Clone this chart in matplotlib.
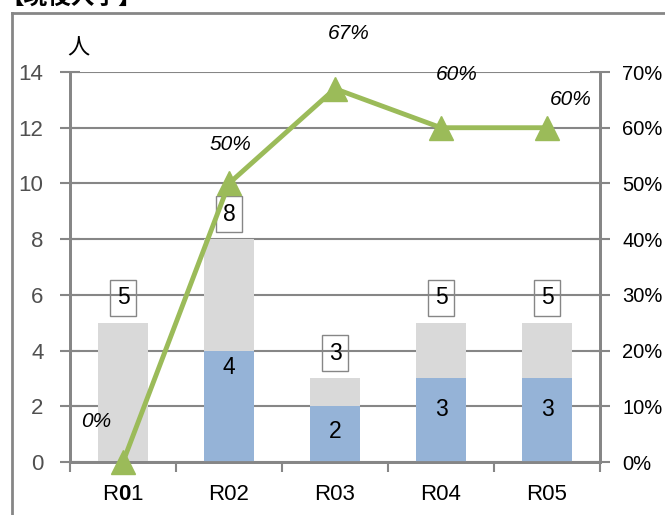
import matplotlib
matplotlib.use("Agg")
import matplotlib.pyplot as plt
from matplotlib.lines import Line2D

plt.rcParams['font.family'] = ['Liberation Sans', 'Noto Sans CJK JP', 'DejaVu Sans']
plt.rcParams['mathtext.fontset'] = 'custom'
plt.rcParams['mathtext.bf'] = 'Liberation Sans:bold'
plt.rcParams['mathtext.rm'] = 'Liberation Sans'

categories = [r"R$\mathbf{0}$1", "R02", "R03", "R04", "R05"]
totals = [5, 8, 3, 5, 5]
admitted = [0, 4, 2, 3, 3]
rates = [0, 50, 67, 60, 60]
rate_labels = ["0%", "50%", "67%", "60%", "60%"]
left_ticks = [0, 2, 4, 6, 8, 10, 12, 14]
right_ticks = [0, 10, 20, 30, 40, 50, 60, 70]

# label offsets (points) - layout only
rate_offsets = [(-19, 29), (1, 28), (10, 40), (11, 38), (17, 20)]
blue_label_y = [None, 3.4, 1.1, 1.9, 1.9]

gray = "#D9D9D9"
blue = "#95B3D7"
green = "#9BBB59"
axc = "#868686"

fig = plt.figure(figsize=(6.65, 5.15), dpi=100)
ax = fig.add_axes([70/665, 1-462/515, 530/665, 390/515])
ax2 = ax.twinx()

x = list(range(len(categories)))
ax.bar(x, totals, width=0.47, color=gray, zorder=2)
ax.bar(x, admitted, width=0.47, color=blue, zorder=3)

ax.set_xlim(-0.5, 4.5)
ax.set_ylim(0, 14)
ax.set_yticks(left_ticks)
ax.set_xticks(x)
ax.set_xticklabels(categories, fontsize=16)
ax.tick_params(axis='y', labelsize=16, labelcolor="#505050", direction='inout', length=14, width=1.5, color=axc, pad=12)
ax.tick_params(axis='x', direction='inout', length=0, pad=16)
ax.yaxis.grid(True, color=axc, linewidth=1.5, zorder=0)
ax.set_axisbelow(True)

ax.set_xticks([-0.5, 0.5, 1.5, 2.5, 3.5, 4.5], minor=True)
ax.tick_params(axis='x', which='minor', direction='out', length=7, width=1.5, color=axc)

for s in ['top']:
    ax.spines[s].set_visible(False)
    ax2.spines[s].set_visible(False)
for s in ['left', 'right', 'bottom']:
    ax.spines[s].set_color(axc)
    ax.spines[s].set_linewidth(2)
    ax2.spines[s].set_color(axc)
    ax2.spines[s].set_linewidth(2)

for xi, t in zip(x, totals):
    ax.text(xi, t + 0.9, str(t), ha='center', va='center', fontsize=16.5, zorder=5,
            bbox=dict(boxstyle='square,pad=0.28', facecolor='none', edgecolor=axc, linewidth=1))
for xi, a, yy in zip(x, admitted, blue_label_y):
    if a > 0:
        ax.text(xi, yy, str(a), ha='center', va='center', fontsize=16.5, zorder=5)

ax2.plot(x, rates, color=green, linewidth=3.5, marker='^', markersize=17, zorder=6, clip_on=False)
ax2.set_ylim(0, 70)
ax2.set_yticks(right_ticks)
ax2.set_yticklabels([f"{v}%" for v in right_ticks], fontsize=14.5)
ax2.tick_params(axis='y', direction='inout', length=14, width=1.5, color=axc, pad=9)
for xi, r, lab, off in zip(x, rates, rate_labels, rate_offsets):
    ax2.annotate(lab, (xi, r), xytext=off, textcoords='offset points', ha='center', va='center',
                 fontsize=15, style='italic', zorder=7)

fig.text(78/665, 1-48/515, "人", fontsize=16, ha='center', va='center',
         family=['Noto Sans CJK JP', 'DejaVu Sans'])
fig.text(0.0, 1-9/515, "【現役入学】", fontsize=17, ha='left', va='bottom', weight='bold',
         family=['Noto Sans CJK JP', 'DejaVu Sans'])

fig.add_artist(Line2D([12/665, 12/665], [0, 1-13/515], color=axc, linewidth=2, transform=fig.transFigure))
fig.add_artist(Line2D([12/665, 1], [1-13/515, 1-13/515], color=axc, linewidth=2, transform=fig.transFigure))

fig.savefig("out.png", dpi=100)
